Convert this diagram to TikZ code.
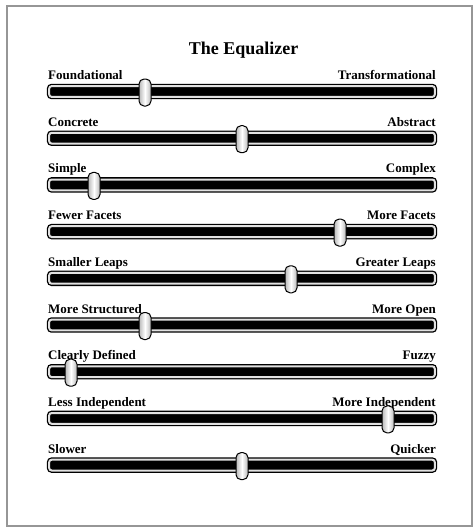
\documentclass[tikz,border=0pt]{standalone}
\usepackage{fontspec}
\setmainfont{Liberation Serif}
\definecolor{framegray}{RGB}{150,150,150}
\definecolor{gapgray}{RGB}{225,225,225}
\usepackage{tikz}
\usetikzlibrary{positioning}

\begin{document}
\begin{tikzpicture}[x=1pt, y=-1pt,
      frame/.style={draw=framegray, line width=1.4pt},
      track/.style={draw=black, line width=1.3pt, double=gapgray,
                    double distance=2pt, fill=black, rounded corners=2.5pt,
                    minimum width=385.6pt, minimum height=10.8pt, inner sep=0pt},
      knob/.style={draw=black, line width=1pt, rounded corners=5pt,
                   left color=gray!55, right color=gray!55, middle color=white,
                   minimum width=12pt, minimum height=27pt, inner sep=0pt},
      lbl/.style={font=\fontsize{13}{15}\selectfont\bfseries, inner sep=0pt},
      ttl/.style={font=\fontsize{18}{20}\selectfont\bfseries, inner sep=0pt}
    ]
    \useasboundingbox (0,0) rectangle (476,528);
    \draw[frame] (7,6) rectangle (472,526);

    \node[ttl, anchor=base] (title) at (243.5,54) {The Equalizer};

    % sliders, top to bottom
    \node[track] (bar1) at (242,91.5) {};
    \node[lbl, anchor=base west] (lo1) at (48,79.5) {Foundational};
    \node[lbl, anchor=base east] (hi1) at (436,79.5) {Transformational};
    \node[knob] (k1) at (145,92.5) {};

    \node[track] (bar2) at (242,138.2) {};
    \node[lbl, anchor=base west] (lo2) at (48,126.2) {Concrete};
    \node[lbl, anchor=base east] (hi2) at (436,126.2) {Abstract};
    \node[knob] (k2) at (242,139.2) {};

    \node[track] (bar3) at (242,184.9) {};
    \node[lbl, anchor=base west] (lo3) at (48,172.9) {Simple};
    \node[lbl, anchor=base east] (hi3) at (436,172.9) {Complex};
    \node[knob] (k3) at (94,185.9) {};

    \node[track] (bar4) at (242,231.6) {};
    \node[lbl, anchor=base west] (lo4) at (48,219.6) {Fewer Facets};
    \node[lbl, anchor=base east] (hi4) at (436,219.6) {More Facets};
    \node[knob] (k4) at (340,232.6) {};

    \node[track] (bar5) at (242,278.3) {};
    \node[lbl, anchor=base west] (lo5) at (48,266.3) {Smaller Leaps};
    \node[lbl, anchor=base east] (hi5) at (436,266.3) {Greater Leaps};
    \node[knob] (k5) at (291,279.3) {};

    \node[track] (bar6) at (242,325.0) {};
    \node[lbl, anchor=base west] (lo6) at (48,313.0) {More Structured};
    \node[lbl, anchor=base east] (hi6) at (436,313.0) {More Open};
    \node[knob] (k6) at (145,326.0) {};

    \node[track] (bar7) at (242,371.7) {};
    \node[lbl, anchor=base west] (lo7) at (48,359.7) {Clearly Defined};
    \node[lbl, anchor=base east] (hi7) at (436,359.7) {Fuzzy};
    \node[knob] (k7) at (71,372.7) {};

    \node[track] (bar8) at (242,418.4) {};
    \node[lbl, anchor=base west] (lo8) at (48,406.4) {Less Independent};
    \node[lbl, anchor=base east] (hi8) at (436,406.4) {More Independent};
    \node[knob] (k8) at (388,419.4) {};

    \node[track] (bar9) at (242,465.1) {};
    \node[lbl, anchor=base west] (lo9) at (48,453.1) {Slower};
    \node[lbl, anchor=base east] (hi9) at (436,453.1) {Quicker};
    \node[knob] (k9) at (242,466.1) {};
  \end{tikzpicture}
\end{document}
